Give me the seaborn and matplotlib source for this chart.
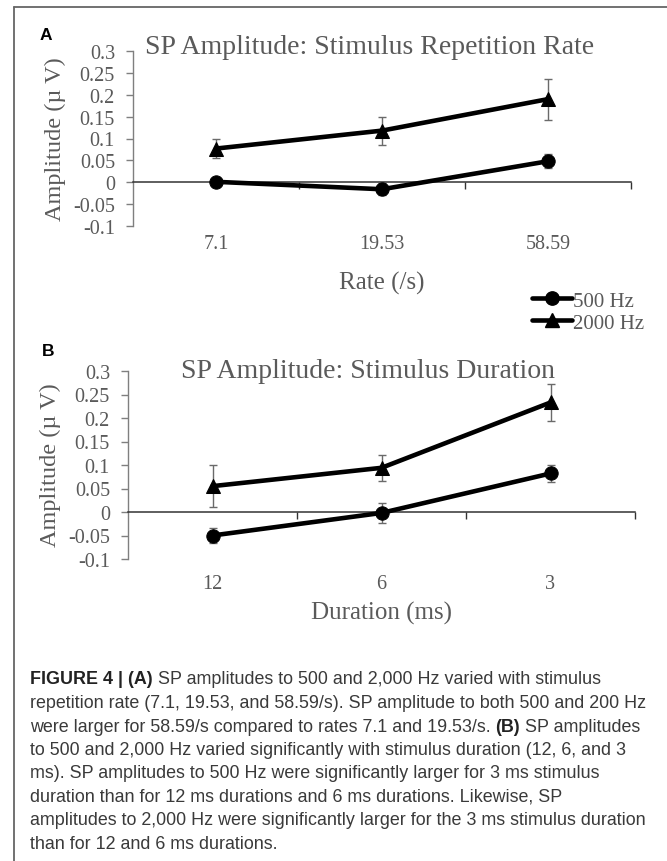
import numpy as np
import pandas as pd
import matplotlib
matplotlib.use("Agg")
import matplotlib.pyplot as plt
import seaborn as sns
from matplotlib.lines import Line2D
from matplotlib import font_manager

# ---------------- data ----------------
rate_categories = ["7.1", "19.53", "58.59"]
rate_amp_500 = [0.001, -0.016, 0.048]
rate_err_500 = [0.006, 0.014, 0.016]
rate_amp_2000 = [0.077, 0.118, 0.190]
rate_err_2000 = [0.022, 0.032, 0.047]

dur_categories = ["12", "6", "3"]
dur_amp_500 = [-0.050, -0.002, 0.082]
dur_err_500 = [0.016, 0.021, 0.019]
dur_amp_2000 = [0.055, 0.094, 0.233]
dur_err_2000 = [0.044, 0.028, 0.039]

y_ticks = [-0.1, -0.05, 0, 0.05, 0.1, 0.15, 0.2, 0.25, 0.3]
y_tick_labels = ["-0.1", "-0.05", "0", "0.05", "0.1", "0.15", "0.2", "0.25", "0.3"]
series_labels = ["500 Hz", "2000 Hz"]

title_a = "SP Amplitude: Stimulus Repetition Rate"
title_b = "SP Amplitude: Stimulus Duration"
xlabel_a = "Rate (/s)"
xlabel_b = "Duration (ms)"
ylabel = "Amplitude (\u00b5 V)"

caption_lines = [
    [("FIGURE 4 | (A)", True), ("SP amplitudes to 500 and 2,000 Hz varied with stimulus", False)],
    [("repetition rate (7.1, 19.53, and 58.59/s). SP amplitude to both 500 and 200 Hz", False)],
    [("were larger for 58.59/s compared to rates 7.1 and 19.53/s.", False), ("(B)", True), ("SP amplitudes", False)],
    [("to 500 and 2,000 Hz varied significantly with stimulus duration (12, 6, and 3", False)],
    [("ms). SP amplitudes to 500 Hz were significantly larger for 3 ms stimulus", False)],
    [("duration than for 12 ms durations and 6 ms durations. Likewise, SP", False)],
    [("amplitudes to 2,000 Hz were significantly larger for the 3 ms stimulus duration", False)],
    [("than for 12 and 6 ms durations.", False)],
]

# ---------------- style ----------------
sns.set_style("white")
installed = {f.name for f in font_manager.fontManager.ttflist}
SERIF = "Liberation Serif" if "Liberation Serif" in installed else "DejaVu Serif"
CAP_FONT = "Liberation Sans"
CAP_SIZE = 12.9
plt.rcParams["font.family"] = [SERIF, "DejaVu Serif"]

W, H = 667, 862
fig = plt.figure(figsize=(W / 100, H / 100), dpi=100)

GRAY_TXT = "#5a5a5a"
AX_GRAY = "#7f7f7f"


def px_axes(x0, x1, ytop, ybot):
    return fig.add_axes([x0 / W, 1 - ybot / H, (x1 - x0) / W, (ybot - ytop) / H])


def draw_panel(ax, cats, a500, e500, a2000, e2000, xlabel, label_pad_px, xlabel_y):
    pos = np.arange(len(cats))
    df = pd.DataFrame({
        "pos": np.concatenate([pos, pos]),
        "amp": list(a500) + list(a2000),
        "freq": [series_labels[0]] * len(cats) + [series_labels[1]] * len(cats),
    })
    ax.errorbar(pos, a500, yerr=e500, fmt="none", ecolor="#6a6a6a", elinewidth=1.0,
                capsize=3, capthick=1.0, zorder=2)
    ax.errorbar(pos, a2000, yerr=e2000, fmt="none", ecolor="#6a6a6a", elinewidth=1.0,
                capsize=3, capthick=1.0, zorder=2)
    for lab, mk, ms in [(series_labels[0], "o", 9.6), (series_labels[1], "^", 10.5)]:
        sub = df[df["freq"] == lab]
        sns.lineplot(data=sub, x="pos", y="amp", color="black", linewidth=3.3,
                     marker=mk, markersize=ms, markeredgecolor="black",
                     markerfacecolor="black", sort=False, ax=ax, zorder=3, legend=False)
    ax.set_xlim(-0.5, len(cats) - 0.5)
    ax.set_ylim(-0.1, 0.3)
    ax.set_yticks(y_ticks)
    ax.set_yticklabels(y_tick_labels)
    ax.tick_params(axis="y", direction="out", length=5, width=1.0, color=AX_GRAY, pad=8,
                   left=True, labelsize=14.5, labelcolor=GRAY_TXT)
    # category labels below, ticks at boundaries on the zero line
    ax.set_xticks(pos)
    ax.set_xticklabels(cats)
    ax.tick_params(axis="x", which="major", length=0, pad=label_pad_px * 0.72,
                   labelsize=14.5, labelcolor=GRAY_TXT)
    ax.set_xticks(np.arange(len(cats)) + 0.5, minor=True)
    ax.tick_params(axis="x", which="minor", direction="out", length=5, width=1.0,
                   color="#333333", bottom=True)
    for s in ["top", "right"]:
        ax.spines[s].set_visible(False)
    ax.spines["left"].set_color(AX_GRAY)
    ax.spines["left"].set_linewidth(1.0)
    ax.spines["bottom"].set_position(("data", 0))
    ax.spines["bottom"].set_color("#333333")
    ax.spines["bottom"].set_linewidth(1.1)
    ax.set_xlabel(xlabel, fontsize=18, color=GRAY_TXT, family=SERIF)
    ax.xaxis.label.set_va("center")
    ax.xaxis.set_label_coords(0.5, xlabel_y)
    ax.set_ylabel(ylabel, fontsize=17.5, color=GRAY_TXT, family=SERIF)
    ax.yaxis.label.set_va("center")
    ax.grid(False)
    ax.patch.set_alpha(0)


# Panel A
ax_a = px_axes(133, 631, 52, 227)
draw_panel(ax_a, rate_categories, rate_amp_500, rate_err_500, rate_amp_2000, rate_err_2000,
           xlabel_a, 52, (227 - 283) / 175)
ax_a.yaxis.set_label_coords((55 - 133) / 498, (227 - 139) / 175)

# Panel B
ax_b = px_axes(128, 635, 372, 560)
draw_panel(ax_b, dur_categories, dur_amp_500, dur_err_500, dur_amp_2000, dur_err_2000,
           xlabel_b, 62, (560 - 613) / 188)
ax_b.yaxis.set_label_coords((50 - 128) / 507, (560 - 465) / 188)

# Titles
fig.text(370 / W, 1 - 47 / H, title_a, ha="center", va="center", fontsize=20,
         color=GRAY_TXT, family=SERIF)
fig.text(368 / W, 1 - 372 / H, title_b, ha="center", va="center", fontsize=20,
         color=GRAY_TXT, family=SERIF)

# Panel letters
fig.text(40 / W, 1 - 35 / H, "A", ha="left", va="center", fontsize=12.5,
         fontweight="bold", family=["Liberation Sans", "DejaVu Sans"], color="black")
fig.text(42 / W, 1 - 352 / H, "B", ha="left", va="center", fontsize=12.5,
         fontweight="bold", family=["Liberation Sans", "DejaVu Sans"], color="black")

# Legend
handles = [
    Line2D([], [], color="black", lw=3.3, marker="o", markersize=9.6),
    Line2D([], [], color="black", lw=3.3, marker="^", markersize=10.5),
]
fig.legend(handles, series_labels, loc="upper left",
           bbox_to_anchor=(532 / W, 1 - 292 / H), frameon=False,
           handlelength=1.9, handletextpad=0.05, labelspacing=0.12, borderpad=0,
           borderaxespad=0, prop={"family": SERIF, "size": 15}, labelcolor=GRAY_TXT)

# Figure frame (left and top)
fig.add_artist(Line2D([14 / W, 14 / W], [0, 1 - 8 / H], transform=fig.transFigure,
                      color="#666666", lw=1.3))
fig.add_artist(Line2D([14 / W, 1], [1 - 8 / H, 1 - 8 / H], transform=fig.transFigure,
                      color="#666666", lw=1.3))

# Caption
renderer = fig.canvas.get_renderer()
y0 = 680
dy = 23.5
for i, segs in enumerate(caption_lines):
    x = 30
    yc = y0 + i * dy
    for j, (txt, bold) in enumerate(segs):
        t = fig.text(x / W, 1 - yc / H, txt, ha="left", va="center", fontsize=CAP_SIZE,
                     fontweight="bold" if bold else "normal",
                     family=[CAP_FONT, "DejaVu Sans"],
                     color="#222222" if bold else "#3a3a3a")
        bb = t.get_window_extent(renderer)
        x = bb.x1 + 5

fig.savefig("out.png", dpi=100)
